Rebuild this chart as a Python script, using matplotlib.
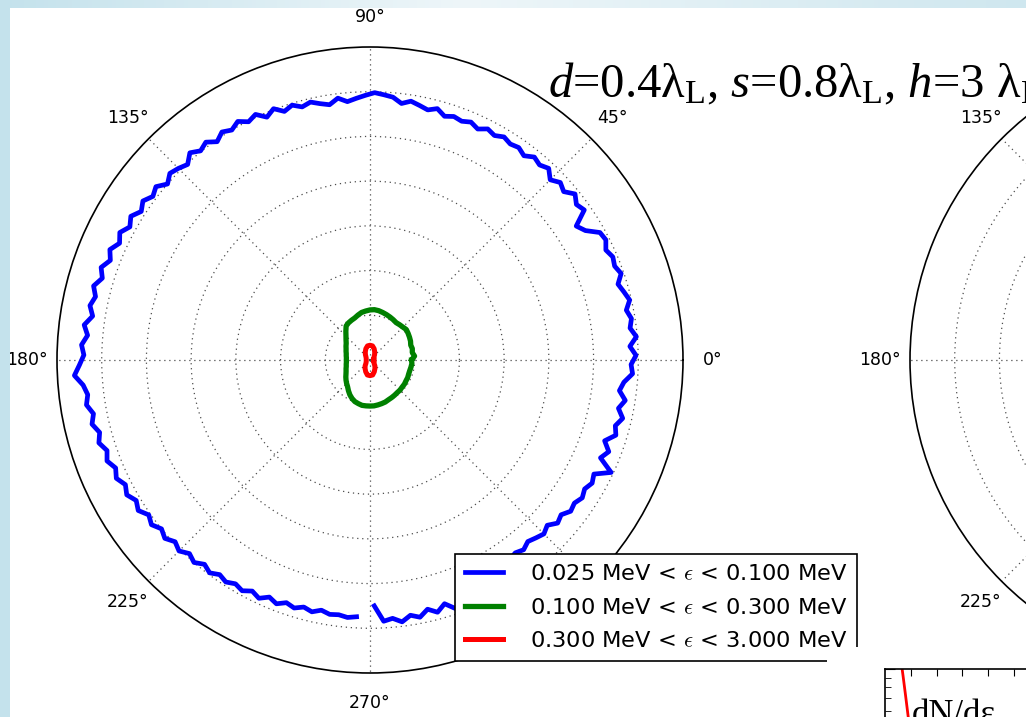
import numpy as np
import matplotlib.pyplot as plt
from matplotlib.patches import Rectangle
from matplotlib.font_manager import FontProperties
from matplotlib.colors import LinearSegmentedColormap

plt.rcParams['mathtext.rm'] = 'Liberation Serif'
plt.rcParams['mathtext.it'] = 'Liberation Serif:italic'

# angular distributions (outer circle = 7 units)
blue_start_deg = -89
blue_step_deg = 2
blue_r = [5.50, 5.85, 5.80, 5.90, 5.78, 5.86, 5.72, 5.84, 5.70, 5.88, 5.76, 5.66, 5.80, 5.62, 5.70,
          5.60, 5.52, 5.45, 5.40, 5.46, 5.38, 5.44, 5.50, 5.42, 5.56, 5.50, 5.62, 5.58, 5.66, 5.60,
          5.68, 5.62, 5.95, 5.60, 5.72, 5.55, 5.75, 5.68, 5.80, 5.66, 5.78, 5.62, 5.70, 5.88, 5.84,
          5.95, 5.82, 5.98, 5.86, 5.92, 5.84, 5.96, 5.88, 5.80, 5.94, 5.86, 5.90, 5.82, 5.92, 5.88,
          5.62, 5.50, 5.85, 5.78, 5.90, 5.74, 5.82, 5.70, 5.86, 5.78, 5.84, 5.72, 5.80, 5.76, 5.82,
          5.74, 5.80, 5.70, 5.78, 5.72, 5.76, 5.70, 5.82, 5.74, 5.80, 5.86, 5.78, 5.90, 5.94, 5.98,
          5.92, 5.86, 5.80, 5.90, 5.78, 5.84, 5.92, 5.86, 5.96, 5.88, 6.02, 5.90, 6.06, 5.98, 6.10,
          6.00, 6.08, 5.96, 6.10, 6.02, 6.14, 5.98, 6.06, 6.12, 6.00, 6.16, 6.08, 6.20, 6.10, 6.24,
          6.14, 6.28, 6.18, 6.32, 6.22, 6.36, 6.26, 6.40, 6.30, 6.38, 6.28, 6.44, 6.34, 6.46, 6.40,
          6.50, 6.62, 6.44, 6.36, 6.42, 6.30, 6.38, 6.26, 6.34, 6.22, 6.30, 6.18, 6.26, 6.14, 6.22,
          6.10, 6.18, 6.04, 6.12, 6.00, 6.08, 5.96, 6.04, 5.92, 6.00, 5.88, 5.96, 5.86, 5.92, 5.84,
          5.90, 5.80, 5.88, 5.76, 5.84, 5.74, 5.80, 5.72, 5.78, 5.70, 5.76, 5.74, 5.78, 5.75]

green_step_deg = 5
green_r = [0.93, 1.00, 0.96, 0.98, 0.97, 1.00, 1.02, 1.04, 1.06, 1.04, 1.03, 1.02,
           1.04, 1.06, 1.08, 1.10, 1.12, 1.13, 1.12, 1.10, 1.08, 1.04, 1.00, 0.98,
           0.96, 0.93, 0.84, 0.76, 0.70, 0.65, 0.62, 0.59, 0.57, 0.55, 0.54, 0.53,
           0.53, 0.53, 0.54, 0.55, 0.57, 0.59, 0.62, 0.66, 0.70, 0.74, 0.78, 0.84,
           0.90, 0.95, 0.99, 1.01, 1.03, 1.03, 1.03, 1.03, 1.02, 1.01, 1.00, 0.98,
           0.97, 0.96, 0.95, 0.95, 0.94, 0.94, 0.93, 0.93, 0.92, 0.92, 0.93, 0.94]

red_step_deg = 10
red_r = [0.085, 0.086, 0.09, 0.10, 0.12, 0.16, 0.21, 0.27, 0.32, 0.33, 0.32, 0.27,
         0.21, 0.16, 0.12, 0.10, 0.09, 0.086, 0.085, 0.086, 0.09, 0.10, 0.12, 0.17,
         0.22, 0.28, 0.34, 0.35, 0.34, 0.28, 0.22, 0.17, 0.12, 0.10, 0.09, 0.086]

legend_labels = [r'0.025 MeV < $\epsilon$ < 0.100 MeV',
                 r'0.100 MeV < $\epsilon$ < 0.300 MeV',
                 r'0.300 MeV < $\epsilon$ < 3.000 MeV']

theta_tick_deg = [0, 45, 90, 135, 180, 225, 270, 315]
theta_tick_labels = ['0°', '45°', '90°', '135°', '180°', '225°', '270°', '315°']
r_ticks = [1, 2, 3, 4, 5, 6]
r_max = 7

title_text = (r'$\mathit{d}$=0.4$\mathrm{λ_L}$, $\mathit{s}$=0.8$\mathrm{λ_L}$, '
              r'$\mathit{h}$=3 $\mathrm{λ_L}$')

# piece of the spectrum inset in the lower right corner
inset_energy = [0.30, 0.35, 0.40, 0.45, 0.50]
inset_dnde = [1.16, 0.92, 0.72, 0.56, 0.43]

W, H = 1026, 717
fig = plt.figure(figsize=(W / 100, H / 100), dpi=100)
fig.patch.set_facecolor('white')


def style_polar(ax):
    ax.set_ylim(0, r_max)
    ax.set_yticks(r_ticks)
    ax.set_yticklabels([])
    ax.set_thetagrids(theta_tick_deg, theta_tick_labels, fontsize=12.5)
    ax.tick_params(axis='x', pad=14.5, length=0)
    ax.grid(True, color='0.3', linestyle=(0, (1, 3)), linewidth=0.9)
    ax.spines['polar'].set_linewidth(1.2)
    ax.spines['polar'].set_color('black')


ax = fig.add_axes([57 / W, 44 / H, 626 / W, 626 / H], projection='polar')
style_polar(ax)

th_b = np.deg2rad(blue_start_deg + blue_step_deg * np.arange(len(blue_r)))
ax.plot(th_b, blue_r, color='blue', lw=3.4, label=legend_labels[0])

th_g = np.deg2rad(green_step_deg * np.arange(len(green_r) + 1))
ax.plot(th_g, green_r + green_r[:1], color='green', lw=3.8, label=legend_labels[1])

th_r = np.deg2rad(red_step_deg * np.arange(len(red_r) + 1))
ax.plot(th_r, red_r + red_r[:1], color='red', lw=3.6, label=legend_labels[2])

leg = ax.legend(loc='upper left', bbox_to_anchor=(455 / W, 1 - 554 / H),
                bbox_transform=fig.transFigure, borderaxespad=0,
                prop=FontProperties(family='DejaVu Sans', size=16.2, math_fontfamily='cm'),
                fancybox=False, framealpha=1, edgecolor='black',
                handlelength=1.67, handletextpad=1.2, borderpad=0.45, labelspacing=0.6)
leg.get_frame().set_linewidth(1.2)

# second panel, mostly off the slide
ax2 = fig.add_axes([910 / W, 44 / H, 626 / W, 626 / H], projection='polar')
style_polar(ax2)

fig.text(548 / W, 1 - 97 / H, title_text, fontsize=35, family='Liberation Serif',
         math_fontfamily='custom', ha='left', va='baseline', zorder=5)

# white area of the overlapping picture
fig.add_artist(Rectangle((827 / W, 0), 1 - 827 / W, 70 / H, transform=fig.transFigure,
                         facecolor='white', edgecolor='none', zorder=1))

ax_in = fig.add_axes([885 / W, (48 - 200) / H, 300 / W, 200 / H])
ax_in.set_zorder(3)
ax_in.semilogy(inset_energy, inset_dnde, color='red', lw=2)
ax_in.set_xlim(0, 300 / 51.6)
ax_in.set_ylim(10 ** (-200 / 190), 1.0)
ax_in.set_xticks(np.arange(0.5, 5.8, 0.5))
ax_in.tick_params(axis='x', which='both', direction='in', top=True, bottom=False,
                  labeltop=False, labelbottom=False, length=5)
ax_in.tick_params(axis='y', which='both', direction='in', left=True, right=False,
                  labelleft=False, labelright=False)
ax_in.tick_params(axis='y', which='minor', length=4)
ax_in.tick_params(axis='y', which='major', length=7)
for s in ax_in.spines.values():
    s.set_linewidth(1.2)
fig.text(912 / W, 1 - 699 / H, 'dN/dε', family='Liberation Serif', fontsize=25,
         ha='left', va='top', zorder=4)

# slide border
band = LinearSegmentedColormap.from_list('band', [(0, '#c4e2ec'), (0.45, '#eef6f9'), (1, '#cfe7ef')])
ax_top = fig.add_axes([0, 1 - 8 / H, 1, 8 / H])
ax_top.imshow(np.linspace(0, 1, 256)[None, :], aspect='auto', cmap=band)
ax_top.axis('off')
ax_top.set_zorder(10)
fig.add_artist(Rectangle((0, 0), 10 / W, 1, transform=fig.transFigure,
                         facecolor='#c4e2ec', edgecolor='none', zorder=10))

fig.savefig('out.png', dpi=100)
